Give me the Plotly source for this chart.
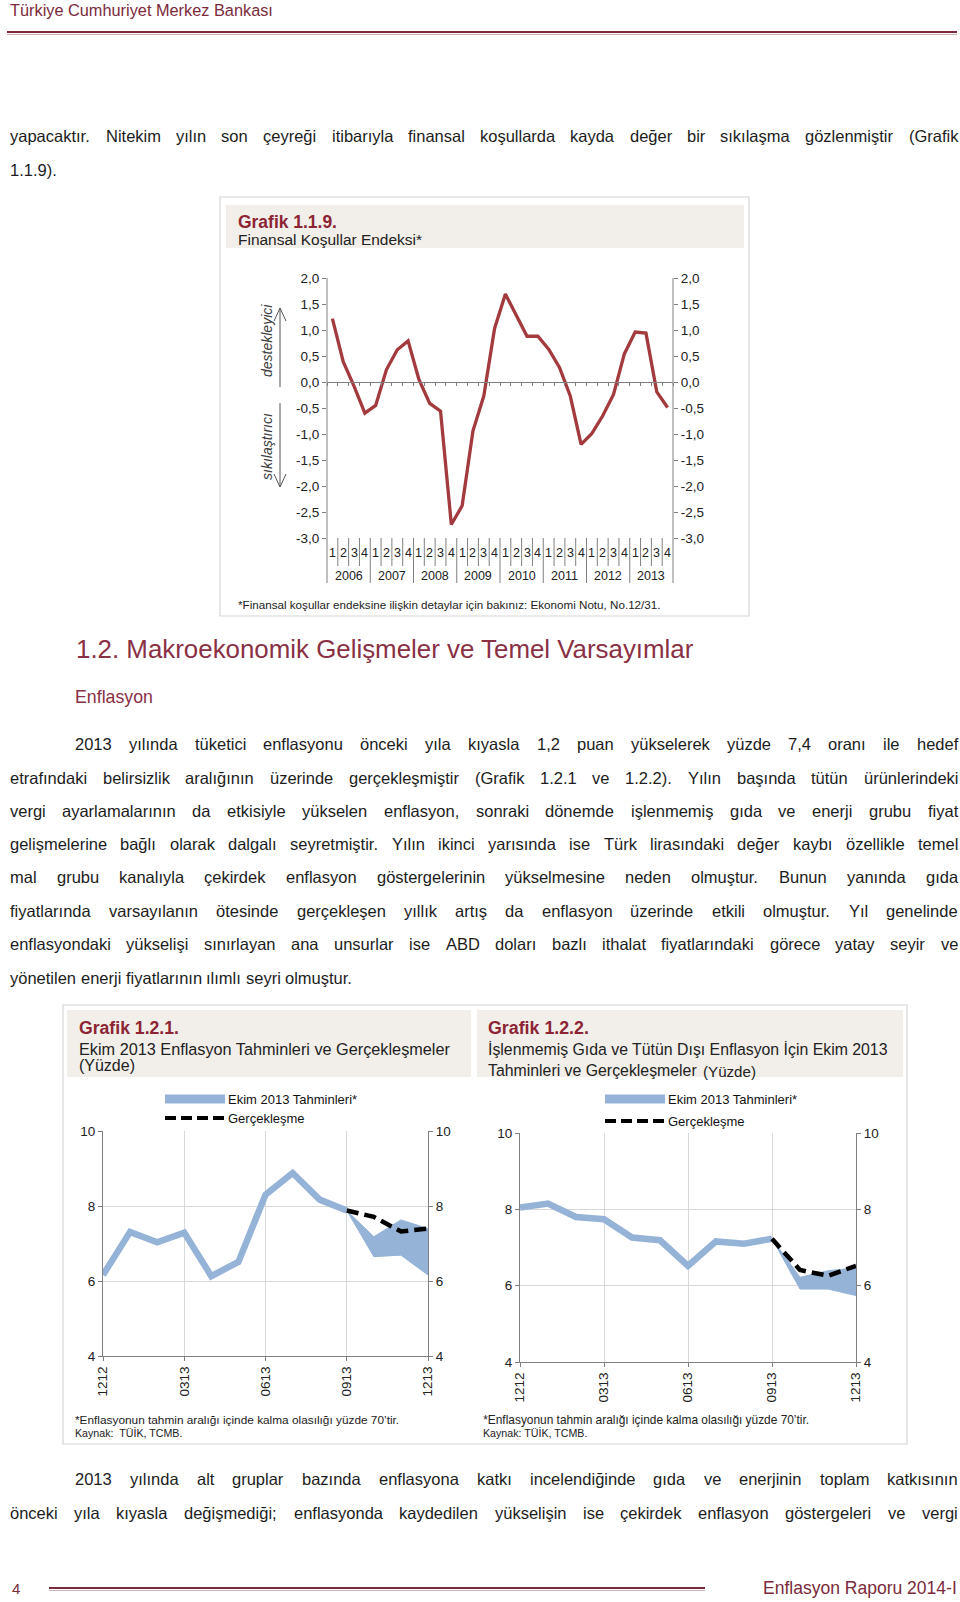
import plotly.graph_objects as go

# ---------------- data ----------------
years = ["2006", "2007", "2008", "2009", "2010", "2011", "2012", "2013"]
quarters = ["1", "2", "3", "4"]
fci_values = [1.22, 0.39, -0.08, -0.60, -0.45, 0.24, 0.62, 0.79,
              0.05, -0.41, -0.56, -2.74, -2.38, -0.94, -0.27, 1.03,
              1.69, 1.30, 0.88, 0.88, 0.63, 0.28, -0.27, -1.20,
              -0.99, -0.65, -0.24, 0.54, 0.96, 0.94, -0.19, -0.49]
fci_tickvals = [2.0, 1.5, 1.0, 0.5, 0.0, -0.5, -1.0, -1.5, -2.0, -2.5, -3.0]
fci_ticktext = ["2,0", "1,5", "1,0", "0,5", "0,0", "-0,5", "-1,0", "-1,5", "-2,0", "-2,5", "-3,0"]

months = ["1212", "0113", "0213", "0313", "0413", "0513", "0613",
          "0713", "0813", "0913", "1013", "1113", "1213"]
month_ticktext = ["1212", "0313", "0613", "0913", "1213"]
infl_tickvals = [4, 6, 8, 10]

cpi_path = [6.16, 7.31, 7.03, 7.29, 6.13, 6.51, 8.30, 8.88, 8.17, 7.88]
cpi_band_low = [7.88, 6.65, 6.69, 6.16]
cpi_band_high = [7.88, 7.18, 7.63, 7.40]
cpi_actual = [7.88, 7.71, 7.32, 7.40]

core_path = [8.05, 8.15, 7.80, 7.74, 7.26, 7.19, 6.52, 7.16, 7.10, 7.23]
core_band_low = [7.23, 5.91, 5.91, 5.74]
core_band_high = [7.23, 6.22, 6.39, 6.47]
core_actual = [7.23, 6.41, 6.26, 6.52]

# ---------------- texts ----------------
header_text = "Türkiye Cumhuriyet Merkez Bankası"
para1 = ["yapacaktır. Nitekim yılın son çeyreği itibarıyla finansal koşullarda kayda değer bir sıkılaşma gözlenmiştir (Grafik",
         "1.1.9)."]
heading = "1.2. Makroekonomik Gelişmeler ve Temel Varsayımlar"
subheading = "Enflasyon"
para2 = ["2013 yılında tüketici enflasyonu önceki yıla kıyasla 1,2 puan yükselerek yüzde 7,4 oranı ile hedef",
         "etrafındaki belirsizlik aralığının üzerinde gerçekleşmiştir (Grafik 1.2.1 ve 1.2.2). Yılın başında tütün ürünlerindeki",
         "vergi ayarlamalarının da etkisiyle yükselen enflasyon, sonraki dönemde işlenmemiş gıda ve enerji grubu fiyat",
         "gelişmelerine bağlı olarak dalgalı seyretmiştir. Yılın ikinci yarısında ise Türk lirasındaki değer kaybı özellikle temel",
         "mal grubu kanalıyla çekirdek enflasyon göstergelerinin yükselmesine neden olmuştur. Bunun yanında gıda",
         "fiyatlarında varsayılanın ötesinde gerçekleşen yıllık artış da enflasyon üzerinde etkili olmuştur. Yıl genelinde",
         "enflasyondaki yükselişi sınırlayan ana unsurlar ise ABD doları bazlı ithalat fiyatlarındaki görece yatay seyir ve",
         "yönetilen enerji fiyatlarının ılımlı seyri olmuştur."]
para3 = ["2013 yılında alt gruplar bazında enflasyona katkı incelendiğinde gıda ve enerjinin toplam katkısının",
         "önceki yıla kıyasla değişmediği; enflasyonda kaydedilen yükselişin ise çekirdek enflasyon göstergeleri ve vergi"]

# ---------------- style ----------------
FONT = "Liberation Sans, Arial, sans-serif"
W, H = 960, 1602
MAROON = "#7B2A3B"
TITLE_RED = "#8C2434"
HEAD_RED = "#8A3045"
BODY = "#1c1c1c"
AX = "#808080"
GRID = "#d9d9d9"
BLUE = "#95B3D7"
FCI_RED = "#A33A3D"
BEIGE = "#F2EFEA"
BOX = "#D6D6D6"

REG = {' ': 278, '!': 278, '(': 333, ')': 333, '*': 389, ',': 278, '-': 333, '.': 278, '/': 278,
       ':': 278, ';': 278, "'": 191, '’': 222,
       'A': 667, 'B': 667, 'C': 722, 'D': 722, 'E': 667, 'F': 611, 'G': 778, 'H': 722, 'I': 278,
       'J': 500, 'K': 667, 'L': 556, 'M': 833, 'N': 722, 'O': 778, 'P': 667, 'Q': 778, 'R': 722,
       'S': 667, 'T': 611, 'U': 722, 'V': 667, 'W': 944, 'X': 667, 'Y': 667, 'Z': 611,
       'a': 556, 'b': 556, 'c': 500, 'd': 556, 'e': 556, 'f': 278, 'g': 556, 'h': 556, 'i': 222,
       'j': 222, 'k': 500, 'l': 222, 'm': 833, 'n': 556, 'o': 556, 'p': 556, 'q': 556, 'r': 333,
       's': 500, 't': 278, 'u': 556, 'v': 500, 'w': 722, 'x': 500, 'y': 500, 'z': 500,
       'ı': 278, 'ğ': 556, 'ş': 500, 'ç': 500, 'ö': 556, 'ü': 556, 'İ': 278, 'Ş': 667,
       'Ç': 722, 'Ö': 778, 'Ü': 722, 'Ğ': 778}
BOLD = {' ': 278, '.': 278, 'G': 778, 'r': 389, 'a': 556, 'f': 333, 'i': 278, 'k': 556}


def tw(s, fs, bold=False):
    tbl = BOLD if bold else REG
    return sum(tbl.get(c, REG.get(c, 556)) for c in s) * fs / 1000.0


def fit(s, width, bold=False):
    return width / tw(s, 1.0, bold)


def PX(x):
    return x / W


def PY(y):
    return 1 - y / H


annotations = []
shapes = []


def txt(s, x, y, fs, color=BODY, xanchor="left", angle=0, bold=False, italic=False,
        xref="paper"):
    t = s
    if bold:
        t = "<b>" + t + "</b>"
    if italic:
        t = "<i>" + t + "</i>"
    annotations.append(dict(text=t, x=(PX(x) if xref == "paper" else x), y=PY(y),
                            xref=xref, yref="paper", xanchor=xanchor, yanchor="middle",
                            showarrow=False, textangle=angle,
                            font=dict(family=FONT, size=fs, color=color),
                            borderpad=0, borderwidth=0))


def line(x0, y0, x1, y1, color, width=1, dash=None, xref="paper"):
    shapes.append(dict(type="line", xref=xref, yref="paper",
                       x0=(PX(x0) if xref == "paper" else x0), x1=(PX(x1) if xref == "paper" else x1),
                       y0=PY(y0), y1=PY(y1),
                       line=dict(color=color, width=width, dash=dash)))


def rect(x0, y0, x1, y1, fill=None, lc=None, lw=1):
    shapes.append(dict(type="rect", xref="paper", yref="paper", layer="below",
                       x0=PX(x0), x1=PX(x1), y0=PY(y1), y1=PY(y0),
                       fillcolor=fill if fill else "rgba(0,0,0,0)",
                       line=dict(color=lc if lc else "rgba(0,0,0,0)", width=lw if lc else 0)))


def para_line(s, x0, x1, y, fs, justify=True):
    words = s.split(" ")
    ws = [tw(w, fs) for w in words]
    if justify and len(words) > 1:
        gap = (x1 - x0 - sum(ws)) / (len(words) - 1)
    else:
        gap = tw(" ", fs)
    x = x0
    for w, wd in zip(words, ws):
        txt(w, x, y, fs, color=BODY)
        x += wd + gap


# ---------------- page furniture ----------------
txt(header_text, 10, 10, fit(header_text, 263), color=MAROON)
line(7, 32, 957, 32, MAROON, 2)
line(7, 34.5, 957, 34.5, "#CDB3B7", 1.2)

just_lines = [(para1[0], 10, 958)] + [(para2[0], 75, 958)] + [(l, 10, 958) for l in para2[1:7]] + \
             [(para3[0], 75, 958), (para3[1], 10, 958)]
fs_body = min(16.5, 0.985 * min((x1 - x0) / tw(s, 1.0) for s, x0, x1 in just_lines))

para_line(para1[0], 10, 958, 136, fs_body)
para_line(para1[1], 10, 958, 170, fs_body, justify=False)

txt(heading, 76, 649, fit(heading, 623), color=HEAD_RED)
txt(subheading, 75, 697, fit(subheading, 78), color=HEAD_RED)

p2_y = [744, 777.5, 811, 844, 877.5, 911, 944, 977.5]
for i, (s, y) in enumerate(zip(para2, p2_y)):
    x0 = 75 if i == 0 else 10
    para_line(s, x0, 958, y, fs_body, justify=(i < len(para2) - 1))

para_line(para3[0], 75, 958, 1479, fs_body)
para_line(para3[1], 10, 958, 1512.5, fs_body)

txt("4", 12, 1588, 15, color=MAROON)
line(49, 1588, 705, 1588, MAROON, 2)
line(49, 1590.5, 705, 1590.5, "#CDB3B7", 1)
foot = "Enflasyon Raporu 2014-I"
txt(foot, 957, 1588, fit(foot, 194), color=MAROON, xanchor="right")

# ---------------- chart 1.1.9 frame ----------------
rect(220, 197, 749, 616, lc=BOX, lw=1.2)
rect(226, 205, 744, 248, fill=BEIGE)
txt("Grafik 1.1.9.", 238, 222, fit("Grafik 1.1.9.", 99, bold=True), color=TITLE_RED, bold=True)
txt("Finansal Koşullar Endeksi*", 238, 239, fit("Finansal Koşullar Endeksi*", 184), color="#222222")
note1 = "*Finansal koşullar endeksine ilişkin detaylar için bakınız: Ekonomi Notu, No.12/31."
txt(note1, 238, 605, fit(note1, 423), color="#222222")

txt("destekleyici", 267, 341, 14, color="#404040", xanchor="center", angle=-90, italic=True)
txt("sıkılaştırıcı", 267, 447, 14, color="#404040", xanchor="center", angle=-90, italic=True)
line(280, 308, 280, 387, "#555555", 1)
line(280, 308, 274, 321, "#555555", 1)
line(280, 308, 286, 321, "#555555", 1)
line(280, 403, 280, 487, "#555555", 1)
line(280, 487, 274, 474, "#555555", 1)
line(280, 487, 286, 474, "#555555", 1)

C1_L, C1_R, C1_T, C1_B, C1_Z = 327, 673, 278, 538, 382
periods = list(range(len(years) * len(quarters)))

line(C1_L, C1_T, C1_L, 583, AX, 1)
line(C1_R, C1_T, C1_R, 583, AX, 1)
for k in range(1, len(periods)):
    bottom = 583 if k % len(quarters) == 0 else 566
    line(k - 0.5, C1_B, k - 0.5, bottom, AX, 1, xref="x")
for k in periods:
    txt(quarters[k % len(quarters)], k, 553, 12.5, color="#222222", xanchor="center", xref="x")
for j, yr in enumerate(years):
    txt(yr, j * len(quarters) + (len(quarters) - 1) / 2, 576, 12.5, color="#222222",
        xanchor="center", xref="x")

# ---------------- charts 1.2.1 / 1.2.2 frames ----------------
rect(63, 1005, 907, 1444, lc=BOX, lw=1.2)
rect(67, 1010, 471, 1077, fill=BEIGE)
rect(477, 1010, 903, 1077, fill=BEIGE)

g1 = "Grafik 1.2.1."
txt(g1, 79, 1028, fit(g1, 100, bold=True), color=TITLE_RED, bold=True)
s1 = "Ekim 2013 Enflasyon Tahminleri ve Gerçekleşmeler"
txt(s1, 79, 1049, fit(s1, 373), color="#222222")
txt("(Yüzde)", 79, 1065, fit("(Yüzde)", 56), color="#222222")

g2 = "Grafik 1.2.2."
txt(g2, 488, 1028, fit(g2, 101, bold=True), color=TITLE_RED, bold=True)
s2a = "İşlenmemiş Gıda ve Tütün Dışı Enflasyon İçin Ekim 2013"
s2b = "Tahminleri ve Gerçekleşmeler"
fs_s2 = fit(s2a, 400)
txt(s2a, 488, 1049, fs_s2, color="#222222")
txt(s2b, 488, 1070, fs_s2, color="#222222")
txt("(Yüzde)", 488 + tw(s2b + " ", fs_s2), 1071, fit("(Yüzde)", 53), color="#222222")

for lx, ly1, ly2 in [(165, 1099, 1118), (605, 1099, 1121)]:
    shapes.append(dict(type="rect", xref="paper", yref="paper", x0=PX(lx), x1=PX(lx + 60),
                       y0=PY(ly1 + 4.5), y1=PY(ly1 - 4.5), fillcolor=BLUE, line=dict(width=0)))
    line(lx, ly2, lx + 60, ly2, "black", 4, dash="11px,5px")
    txt("Ekim 2013 Tahminleri*", lx + 63, ly1, 13, color="#111111")
    txt("Gerçekleşme", lx + 63, ly2, 13, color="#111111")

n1 = "*Enflasyonun tahmin aralığı içinde kalma olasılığı yüzde 70’tir."
txt(n1, 75, 1420, fit(n1, 325), color="#222222")
txt("Kaynak:  TÜİK, TCMB.", 75, 1433, fit("Kaynak:  TÜİK, TCMB.", 108), color="#222222")
txt(n1, 483, 1420, fit(n1, 327), color="#222222")
txt("Kaynak: TÜİK, TCMB.", 483, 1433, fit("Kaynak: TÜİK, TCMB.", 105), color="#222222")

# ---------------- traces ----------------
fig = go.Figure()

fig.add_trace(go.Scatter(x=periods, y=fci_values, mode="lines", xaxis="x", yaxis="y",
                         line=dict(color=FCI_RED, width=3.3), hoverinfo="skip"))
fig.add_trace(go.Scatter(x=periods[:1], y=fci_values[:1], mode="markers", xaxis="x", yaxis="y2",
                         marker=dict(opacity=0), hoverinfo="skip"))

month_idx = list(range(len(months)))
tick_idx = [months.index(m) for m in month_ticktext]


def add_infl(xa, ya_l, ya_r, path, low, high, actual):
    start = len(path) - 1
    band_x = month_idx[start:start + len(low)]
    fig.add_trace(go.Scatter(x=band_x, y=low, mode="lines", xaxis=xa, yaxis=ya_l,
                             line=dict(color=BLUE, width=1), hoverinfo="skip"))
    fig.add_trace(go.Scatter(x=band_x, y=high, mode="lines", xaxis=xa, yaxis=ya_l,
                             fill="tonexty", fillcolor=BLUE,
                             line=dict(color=BLUE, width=1), hoverinfo="skip"))
    fig.add_trace(go.Scatter(x=month_idx[:len(path)], y=path, mode="lines", xaxis=xa, yaxis=ya_l,
                             line=dict(color=BLUE, width=6.5), hoverinfo="skip"))
    fig.add_trace(go.Scatter(x=band_x, y=actual, mode="lines", xaxis=xa, yaxis=ya_l,
                             line=dict(color="black", width=4.5, dash="12px,6px"), hoverinfo="skip"))
    fig.add_trace(go.Scatter(x=month_idx[:1], y=path[:1], mode="markers", xaxis=xa, yaxis=ya_r,
                             marker=dict(opacity=0), hoverinfo="skip"))


add_infl("x2", "y3", "y4", cpi_path, cpi_band_low, cpi_band_high, cpi_actual)
add_infl("x3", "y5", "y6", core_path, core_band_low, core_band_high, core_actual)

tickfont = dict(family=FONT, size=13.5, color="#222222")


def infl_x(domain, anchor):
    return dict(domain=[PX(domain[0]), PX(domain[1])], anchor=anchor, range=[0, len(months) - 1],
                tickmode="array", tickvals=tick_idx, ticktext=month_ticktext, tickangle=-90,
                ticks="outside", ticklen=4, tickcolor=AX, showline=True, linecolor=AX,
                showgrid=True, gridcolor=GRID, zeroline=False, tickfont=tickfont,
                automargin=False)


def infl_y(dom, anchor, side="left", overlay=None):
    d = dict(domain=[PY(dom[1]), PY(dom[0])], anchor=anchor, range=[4, 10], side=side,
             tickmode="array", tickvals=infl_tickvals, ticks="outside", ticklen=4, tickcolor=AX,
             showline=True, linecolor=AX, showgrid=(overlay is None), gridcolor=GRID,
             zeroline=False, tickfont=tickfont, automargin=False)
    if overlay:
        d["overlaying"] = overlay
    return d


fci_y = dict(domain=[PY(C1_B), PY(C1_T)], anchor="x", range=[-3, 2], tickmode="array",
             tickvals=fci_tickvals, ticktext=fci_ticktext, ticks="outside", ticklen=4,
             tickcolor=AX, showline=False, showgrid=False, zeroline=False, tickfont=tickfont,
             automargin=False)
fci_y2 = dict(fci_y, side="right", overlaying="y")

fig.update_layout(
    template="none",
    width=W, height=H, margin=dict(l=0, r=0, t=0, b=0, pad=0), autosize=False,
    paper_bgcolor="white", plot_bgcolor="white", showlegend=False,
    xaxis=dict(domain=[PX(C1_L), PX(C1_R)], anchor="free", position=PY(C1_Z),
               range=[-0.5, len(periods) - 0.5], tickmode="array",
               tickvals=[k - 0.5 for k in range(len(periods) + 1)], ticks="outside",
               ticklen=3, tickcolor=AX, showticklabels=False, showline=True, linecolor=AX,
               showgrid=False, zeroline=False, automargin=False),
    yaxis=fci_y, yaxis2=fci_y2,
    xaxis2=infl_x((103, 428), "y3"),
    yaxis3=infl_y((1131, 1356), "x2"),
    yaxis4=infl_y((1131, 1356), "x2", side="right", overlay="y3"),
    xaxis3=infl_x((520, 856), "y5"),
    yaxis5=infl_y((1133, 1362), "x3"),
    yaxis6=infl_y((1133, 1362), "x3", side="right", overlay="y5"),
    annotations=annotations, shapes=shapes,
)

fig.write_html("out.html", config={"displayModeBar": False},
               post_script="document.body.style.margin='0';document.body.style.overflow='hidden';")
